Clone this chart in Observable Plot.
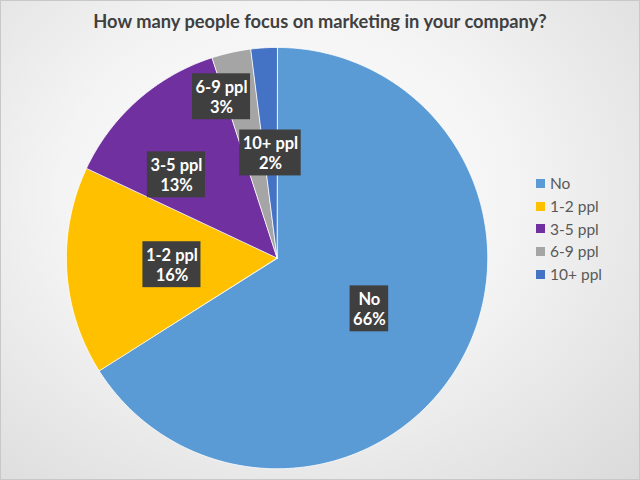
<!DOCTYPE html>
<html>
<head>
<meta charset="utf-8">
<script src="https://cdn.jsdelivr.net/npm/d3@7"></script>
<script src="https://cdn.jsdelivr.net/npm/@observablehq/plot@0.6"></script>
<style>
  html, body { margin: 0; padding: 0; }
  #frame {
    position: relative; width: 638px; height: 478px; overflow: hidden;
    border: 1px solid #c8c8c8;
    background: radial-gradient(ellipse at 45% 40%, #ffffff 0%, #f4f4f4 45%, #dadada 100%);
    font-family: Lato, "Open Sans", sans-serif;
  }
  #title {
    position: absolute; top: 9px; left: 0; width: 100%; text-align: center;
    font-size: 18.3px; font-weight: bold; color: #404040;
  }
  #chart { position: absolute; left: -1px; top: -1px; }
  #legend {
    position: absolute; left: 535px; top: 171px; color: #595959; font-size: 15.5px;
  }
  #legend div { display: flex; align-items: center; height: 22.7px; }
  #legend span.sw { display: inline-block; width: 9px; height: 9px; margin-right: 5px; }
</style>
</head>
<body>
<div id="frame">
  <div id="title">How many people focus on marketing in your company?</div>
  <div id="chart"></div>
  <div id="legend"></div>
</div>
<script>
// ---- data ----
const categories = ["No", "1-2 ppl", "3-5 ppl", "6-9 ppl", "10+ ppl"];
const shares = [66, 16, 13, 3, 2];
const colors = ["#5B9BD5", "#FFC000", "#7030A0", "#A5A5A5", "#4472C4"];

// ---- layout tweaks for label placement (best-fit like) ----
const labelRadius = [0.5, 0.5, 0.62, 0.81, 0.5];
const labelAngleNudge = [0, 0, -9, -6.4, 0];

const total = d3.sum(shares);
let cum = 0;
const pts = [];
const labels = [];
categories.forEach((c, i) => {
  const a0 = cum / total * 2 * Math.PI;
  cum += shares[i];
  const a1 = cum / total * 2 * Math.PI;
  pts.push({category: c, x: 0, y: 0});
  const n = Math.max(4, Math.ceil((a1 - a0) / 0.01));
  for (let k = 0; k <= n; k++) {
    const a = a0 + (a1 - a0) * k / n;
    pts.push({category: c, x: Math.sin(a), y: Math.cos(a)});
  }
  const am = (a0 + a1) / 2 + labelAngleNudge[i] * Math.PI / 180;
  labels.push({
    category: c,
    text: c + "\n" + Math.round(shares[i] / total * 100) + "%",
    x: labelRadius[i] * Math.sin(am),
    y: labelRadius[i] * Math.cos(am)
  });
});

// measure label widths
const cnv = document.createElement("canvas").getContext("2d");
const fontSize = 16.5;
cnv.font = `bold ${fontSize}px Lato, "Open Sans", sans-serif`;
const R = 211; // pixels per data unit
labels.forEach(d => {
  const w = d3.max(d.text.split("\n"), s => cnv.measureText(s).width) + 6;
  const h = 46;
  d.x1 = d.x - w / 2 / R; d.x2 = d.x + w / 2 / R;
  d.y1 = d.y - h / 2 / R; d.y2 = d.y + h / 2 / R;
});

const cx = 277, cy = 258;
const plot = Plot.plot({
  width: 640, height: 480,
  marginLeft: cx - R, marginRight: 640 - (cx + R),
  marginTop: cy - R, marginBottom: 480 - (cy + R),
  x: {domain: [-1, 1], axis: null},
  y: {domain: [-1, 1], axis: null},
  color: {domain: categories, range: colors},
  style: {background: "transparent", overflow: "visible"},
  marks: [
    Plot.line(pts, {x: "x", y: "y", z: "category", fill: "category", stroke: "#ffffff", strokeWidth: 0.8, curve: "linear-closed"}),
    Plot.rect(labels, {x1: "x1", x2: "x2", y1: "y1", y2: "y2", fill: "#3f3f3f"}),
    Plot.text(labels, {x: "x", y: "y", text: "text", fill: "white", fontSize: fontSize, fontWeight: "bold", lineHeight: 1.2, fontFamily: 'Lato, "Open Sans", sans-serif'})
  ]
});
document.getElementById("chart").appendChild(plot);

const legend = d3.select("#legend");
categories.forEach((c, i) => {
  const row = legend.append("div");
  row.append("span").attr("class", "sw").style("background", colors[i]);
  row.append("span").text(c);
});
</script>
</body>
</html>
